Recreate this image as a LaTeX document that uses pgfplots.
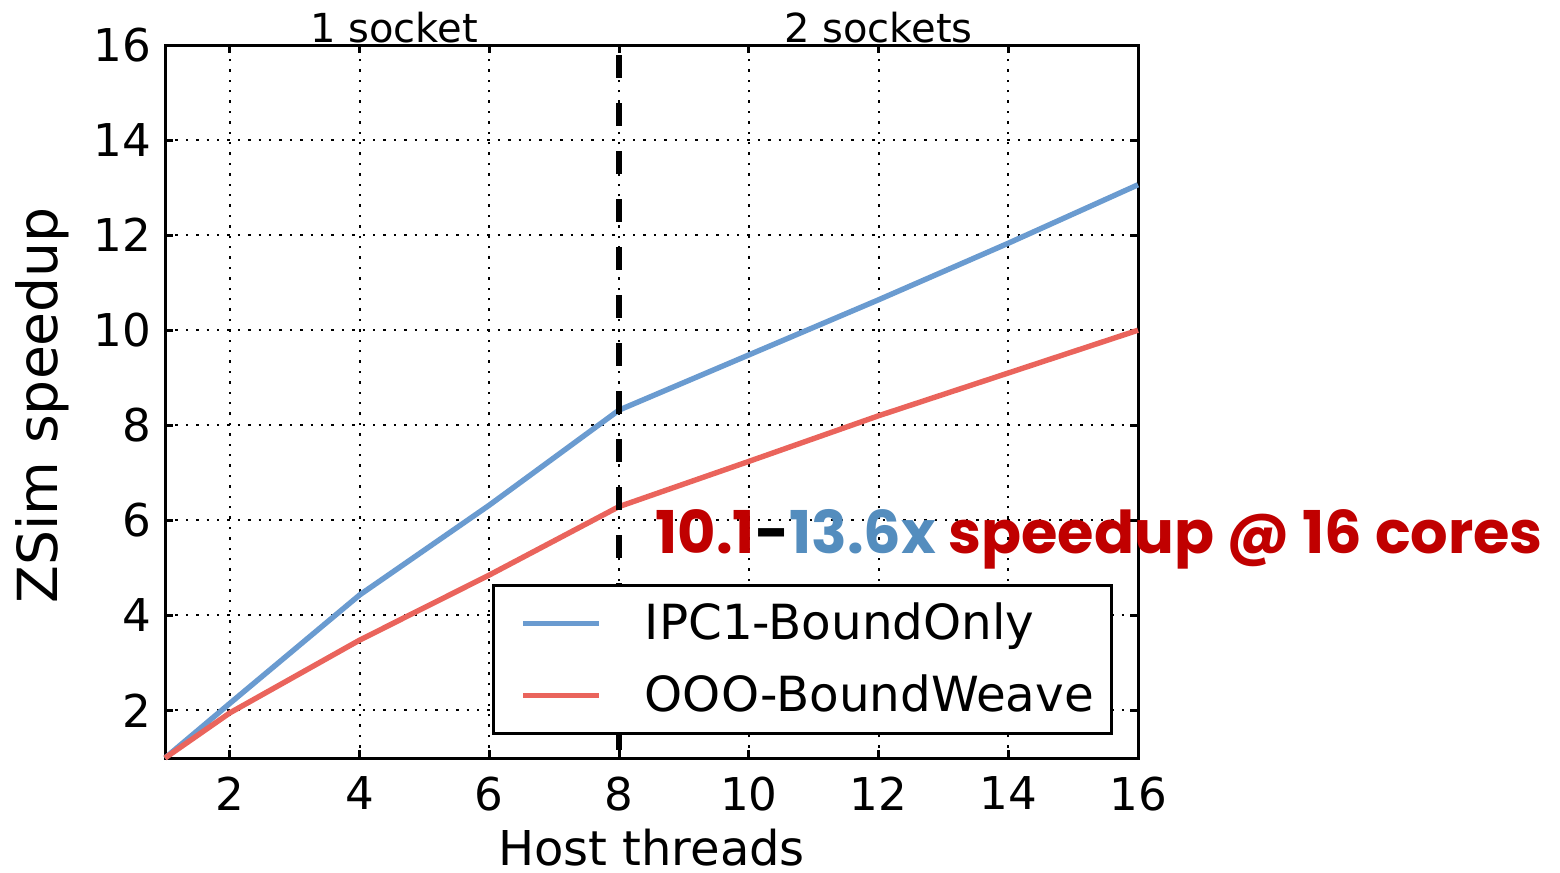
\documentclass[border=0pt]{standalone}
\usepackage{pgfplots}
\pgfplotsset{compat=1.18}
\usepackage{fontspec}
\setmainfont{DejaVu Sans}
\newfontfamily\annfont{Poppins}
\definecolor{cblue}{RGB}{106,155,208}
\definecolor{cred}{RGB}{234,100,92}
\definecolor{tred}{RGB}{192,0,0}
\definecolor{tblue}{RGB}{84,141,190}
\begin{document}
\begin{tikzpicture}
\useasboundingbox (-41.25pt,-28.5pt) rectangle (348.75pt,189.5pt);
\begin{axis}[
  scale only axis, width=243.25pt, height=178.25pt,
  xmin=1, xmax=16, ymin=1, ymax=16,
  xtick={2,4,...,16}, ytick={2,4,...,16},
  tick align=inside, major tick length=2pt,
  tick style={black, line width=0.75pt},
  axis line style={line width=0.75pt},
  grid=major,
  major grid style={black, line width=0.5pt, dash pattern=on 0.6pt off 2pt},
  ticklabel style={font=\fontsize{11.3}{13}\selectfont},
  /pgf/number format/assume math mode=true,
  xticklabel style={yshift=-1.2pt},
  xlabel={Host threads}, ylabel={ZSim speedup},
  xlabel style={font=\fontsize{12}{14}\selectfont, at={(axis description cs:0.5,-0.125)}, anchor=center},
  ylabel style={font=\fontsize{13.8}{16}\selectfont, at={(axis description cs:-0.1264,0.495)}, anchor=center},
  clip=false,
  legend cell align=left,
  legend style={at={(0.336,0.032)}, anchor=south west, draw=black, line width=0.75pt, fill=white,
    inner xsep=2.5pt, inner ysep=2pt, row sep=3pt,
    font=\fontsize{12.1}{14}\selectfont,
    nodes={inner sep=2pt, text height=9.5pt, text depth=1.5pt, anchor=west},
    /tikz/every odd column/.append style={column sep=8.75pt}},
  legend image code/.code={\path (0pt,0pt); \draw[#1] (4.25pt,0pt) -- (23.25pt,0pt);},
]
\addplot[cblue, line width=1.35pt] coordinates {(1,1) (2,2.15) (4,4.43) (6,6.32) (8,8.32) (10,9.48) (12,10.64) (14,11.83) (16,13.06)};
\addlegendentry{IPC1-BoundOnly}
\addplot[cred, line width=1.35pt] coordinates {(1,1) (2,1.95) (4,3.48) (6,4.85) (8,6.29) (10,7.24) (12,8.2) (14,9.1) (16,10.0)};
\addlegendentry{OOO-BoundWeave}
\addplot[black, line width=1.3pt, dash pattern=on 5.8pt off 6.2pt, dash phase=9.5pt, forget plot] coordinates {(8,16) (8,1)};
\node[anchor=base, font=\fontsize{10}{12}\selectfont, yshift=0.75pt] at (axis cs:4.53,16) {1 socket};
\node[anchor=base, font=\fontsize{10}{12}\selectfont, yshift=0.75pt] at (axis cs:12.0,16) {2 sockets};
\node[anchor=west, inner sep=0pt, font=\annfont\bfseries\fontsize{14.75}{17}\selectfont] at (axis cs:8.55,5.6)
  {\textcolor{tred}{10.1}-\textcolor{tblue}{13.6x} \textcolor{tred}{speedup @ 16 cores}};
\end{axis}
\end{tikzpicture}
\end{document}
